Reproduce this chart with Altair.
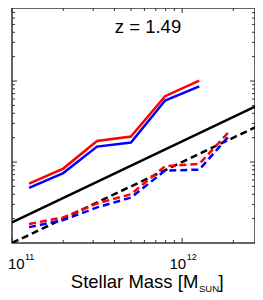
import altair as alt
import pandas as pd

# ---- data ----
mass = [1.26e11, 2.0e11, 3.16e11, 5.0e11, 7.94e11, 1.26e12]
red_solid = [0.54, 0.83, 1.82, 2.06, 6.5, 10.1]
blue_solid = [0.48, 0.73, 1.55, 1.74, 5.75, 8.6]

mass_red_dash = [1.26e11, 2.0e11, 3.16e11, 5.0e11, 7.94e11, 1.26e12, 1.9e12]
red_dash = [0.172, 0.207, 0.308, 0.40, 0.887, 0.946, 2.41]
mass_blue_dash = [1.26e11, 2.0e11, 3.16e11, 5.0e11, 7.94e11, 1.26e12, 1.87e12]
blue_dash = [0.157, 0.192, 0.275, 0.364, 0.783, 0.806, 2.06]

ref_mass = [1e11, 2.955e12]
black_solid = [0.18, 5.32]
black_dash = [0.10, 2.955]

x_major = [1e11, 1e12]
x_minor = [2e11, 3e11, 4e11, 5e11, 6e11, 7e11, 8e11, 9e11, 2e12]
x_base = ["10", "10"]
x_exp = ["11", "12"]
y_major = [1.0, 10.0]
y_minor = [0.2, 0.3, 0.4, 0.5, 0.6, 0.7, 0.8, 0.9,
           2, 3, 4, 5, 6, 7, 8, 9, 20, 30, 40, 50, 60, 70]

title_text = "z = 1.49"
axis_title = ["Stellar Mass [M", "SUN", "]"]

FONT = "Liberation Sans"
W, H = 243, 235
xscale = alt.Scale(type="log", domain=[1e11, 2.68e12])
yscale = alt.Scale(type="log", domain=[0.1, 79.8])


def line(xs, ys, color, dash=None):
    df = pd.DataFrame({"m": xs, "v": ys})
    kw = dict(color=color, strokeWidth=2.5, clip=True)
    if dash:
        kw["strokeDash"] = dash
    return alt.Chart(df).mark_line(**kw).encode(
        x=alt.X("m:Q", scale=xscale, axis=None),
        y=alt.Y("v:Q", scale=yscale, axis=None),
    )


def xticks(vals, length):
    df = pd.DataFrame({"t": vals})
    base = alt.Chart(df).mark_rule(color="#333", strokeWidth=1)
    bot = base.encode(x=alt.X("t:Q", scale=xscale, axis=None),
                      y=alt.value(H), y2=alt.value(H - length))
    top = base.encode(x=alt.X("t:Q", scale=xscale, axis=None),
                      y=alt.value(0), y2=alt.value(length))
    return [bot, top]


def yticks(vals, length):
    df = pd.DataFrame({"t": vals})
    base = alt.Chart(df).mark_rule(color="#333", strokeWidth=1)
    left = base.encode(y=alt.Y("t:Q", scale=yscale, axis=None),
                       x=alt.value(0), x2=alt.value(length))
    right = base.encode(y=alt.Y("t:Q", scale=yscale, axis=None),
                        x=alt.value(W), x2=alt.value(W - length))
    return [left, right]


layers = []
layers += [
    line(ref_mass, black_solid, "black"),
    line(ref_mass, black_dash, "black", [7, 4]),
    line(mass, blue_solid, "#0000ff"),
    line(mass, red_solid, "#ff0000"),
    line(mass_blue_dash, blue_dash, "#0000ff", [7, 4]),
    line(mass_red_dash, red_dash, "#ff0000", [7, 4]),
]
layers += xticks(x_major, 5) + xticks(x_minor, 3)
layers += yticks(y_major, 5) + yticks(y_minor, 3)

# x tick labels (base + superscript exponent)
lab_df = pd.DataFrame({"t": x_major, "b": x_base, "e": x_exp})


def label(row, text_field, size, align, dx, y):
    return alt.Chart(lab_df.iloc[[row]]).mark_text(
        font=FONT, fontSize=size, align=align, dx=dx, baseline="alphabetic",
        color="black").encode(
        x=alt.X("t:Q", scale=xscale, axis=None), y=alt.value(y),
        text=f"{text_field}:N")


layers += [
    label(0, "b", 15, "left", -4, H + 26),
    label(0, "e", 9, "left", 13, H + 17),
    label(1, "b", 15, "right", 4, H + 26),
    label(1, "e", 9, "left", 4.5, H + 17),
]

# in-plot title
layers.append(
    alt.Chart(pd.DataFrame({"s": [title_text]})).mark_text(
        font=FONT, fontSize=18.5, align="center", baseline="middle", color="black").encode(
        x=alt.value(136), y=alt.value(19), text="s:N")
)

# axis title with subscript
parts = pd.DataFrame({"s": axis_title})
layers.append(
    alt.Chart(parts.iloc[[0]]).mark_text(font=FONT, fontSize=18.5, align="right",
                                         baseline="alphabetic", color="black").encode(
        x=alt.value(186.3), y=alt.value(H + 45), text="s:N")
)
layers.append(
    alt.Chart(parts.iloc[[1]]).mark_text(font=FONT, fontSize=9.5, align="left",
                                         baseline="alphabetic", color="black").encode(
        x=alt.value(187), y=alt.value(H + 48.5), text="s:N")
)
layers.append(
    alt.Chart(parts.iloc[[2]]).mark_text(font=FONT, fontSize=18.5, align="left",
                                         baseline="alphabetic", color="black").encode(
        x=alt.value(206.5), y=alt.value(H + 45), text="s:N")
)

chart = alt.layer(*layers).properties(
    width=W, height=H,
    autosize=alt.AutoSizeParams(type="none"),
    padding={"left": 4, "top": 0, "right": 0, "bottom": 49},
).configure_view(stroke="#333", strokeWidth=1.5)

chart.save("out.html", embed_options={"renderer": "svg", "actions": False})
